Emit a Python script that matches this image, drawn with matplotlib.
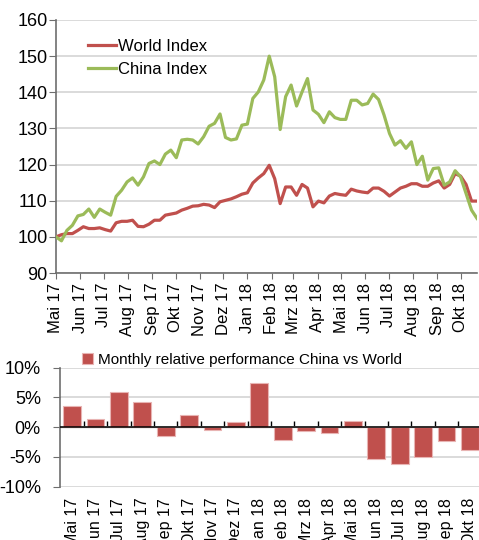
import numpy as np
import pandas as pd
import matplotlib
matplotlib.use("Agg")
import matplotlib.pyplot as plt

plt.rcParams["font.family"] = ["Liberation Sans", "DejaVu Sans"]
plt.rcParams["axes.unicode_minus"] = False

# ---------------- data ----------------
# weekly index values
weeks = pd.date_range("2017-05-01", periods=78, freq="7D")

world = [100.0, 100.6, 100.9, 100.9, 101.8, 102.8, 102.3, 102.3, 102.5, 102.0,
         101.6, 103.9, 104.3, 104.3, 104.6, 102.9, 102.8, 103.5, 104.6, 104.6,
         106.0, 106.3, 106.6, 107.4, 107.9, 108.5, 108.6, 109.0, 108.8, 108.1,
         109.7, 110.1, 110.5, 111.1, 111.8, 112.2, 114.9, 116.3, 117.5, 119.8,
         116.1, 109.2, 113.8, 113.8, 111.5, 114.5, 113.5, 108.3, 109.9, 109.4,
         111.3, 112.0, 111.7, 111.5, 113.2, 112.7, 112.4, 112.2, 113.5, 113.5,
         112.6, 111.3, 112.4, 113.5, 114.0, 114.7, 114.7, 114.0, 114.0, 114.9,
         115.5, 113.5, 114.5, 117.5, 116.8, 114.5, 109.9, 109.9]

china = [100.0, 98.9, 101.8, 103.2, 105.8, 106.2, 107.7, 105.4, 107.7, 106.8,
         106.0, 111.2, 112.9, 115.2, 116.3, 114.3, 116.6, 120.3, 121.0, 120.0,
         122.9, 124.0, 121.9, 126.8, 127.0, 126.8, 125.7, 127.7, 130.6, 131.4,
         134.0, 127.5, 126.8, 127.1, 130.9, 131.2, 138.3, 140.1, 143.4, 150.0,
         144.3, 129.7, 138.8, 142.0, 136.2, 140.1, 143.8, 135.1, 133.9, 131.6,
         134.6, 133.0, 132.5, 132.5, 137.8, 137.8, 136.5, 136.9, 139.5, 138.0,
         133.7, 128.6, 125.4, 126.6, 124.5, 126.3, 120.0, 122.3, 115.7, 118.9,
         119.1, 114.3, 115.2, 118.3, 116.6, 112.0, 107.4, 105.1]

months = ["Mai 17", "Jun 17", "Jul 17", "Aug 17", "Sep 17", "Okt 17", "Nov 17",
          "Dez 17", "Jan 18", "Feb 18", "Mrz 18", "Apr 18", "Mai 18", "Jun 18",
          "Jul 18", "Aug 18", "Sep 18", "Okt 18"]
month_starts = pd.date_range("2017-05-01", periods=18, freq="MS")

# monthly relative performance China vs World (%)
rel_perf = [3.5, 1.4, 5.9, 4.2, -1.5, 2.0, -0.4, 0.8, 7.4, -2.1, -0.6, -0.9,
            1.1, -5.4, -6.2, -5.0, -2.3, -3.9]

y_ticks_top = [90, 100, 110, 120, 130, 140, 150, 160]
y_ticks_bot = [-10, -5, 0, 5, 10]
y_labels_bot = ["-10%", "-5%", "0%", "5%", "10%"]

RED = "#C0504D"
GREEN = "#9BBB59"
GRID = "#d4d4d4"
SPINE = "#6e6e6e"

W, H = 479, 540
fig = plt.figure(figsize=(W / 100, H / 100), dpi=100)

# ---------------- top: index lines ----------------
ax1 = fig.add_axes([56 / W, 1 - 273 / H, (477 - 56) / W, 253 / H])
ax1.plot(weeks, world, color=RED, lw=2.3, label="World Index", zorder=3)
ax1.plot(weeks, china, color=GREEN, lw=2.3, label="China Index", zorder=3)
ax1.set_xlim(weeks[0], weeks[-1])
ax1.set_ylim(90, 160)
ax1.set_yticks(y_ticks_top)
ax1.set_xticks(month_starts)
ax1.set_xticklabels(months, rotation=90, fontsize=12)
ax1.tick_params(axis="y", labelsize=13, length=5, color=SPINE, pad=1)
ax1.tick_params(axis="x", length=4, color=SPINE, pad=3)
ax1.grid(axis="y", color=GRID, lw=1.2, zorder=0)
for s in ["top", "right"]:
    ax1.spines[s].set_visible(False)
for s in ["left", "bottom"]:
    ax1.spines[s].set_color(SPINE)
    ax1.spines[s].set_linewidth(1.2)
ax1.legend(loc="upper left", bbox_to_anchor=(0.04, 0.985), frameon=False,
           fontsize=12, handlelength=1.7, handletextpad=0.1, labelspacing=0.5)

# ---------------- bottom: monthly relative performance ----------------
ax2 = fig.add_axes([60.3 / W, 1 - 486.7 / H, 421.4 / W, 119 / H])
x = np.arange(len(months))
ax2.bar(x, rel_perf, width=0.76, color=RED, edgecolor="#e8b4b3", lw=0.8,
        label="Monthly relative performance China vs World", zorder=3)
ax2.set_xlim(-0.5, len(months) - 0.5)
ax2.set_ylim(-10, 10)
ax2.set_yticks(y_ticks_bot)
ax2.set_yticklabels(y_labels_bot)
ax2.set_xticks(x)
ax2.set_xticklabels(months, rotation=90, fontsize=11.5)
ax2.tick_params(axis="x", length=0, pad=8)
ax2.tick_params(axis="y", labelsize=13, length=5, color=SPINE, pad=9)
ax2.grid(axis="y", color=GRID, lw=1.2, zorder=0)
for s in ["top", "right", "bottom"]:
    ax2.spines[s].set_visible(False)
ax2.spines["left"].set_color(SPINE)
ax2.spines["left"].set_linewidth(1.2)
ax2.axhline(0, color="black", lw=1.1, zorder=4)

sec = ax2.secondary_xaxis(0.5)
sec.set_xticks(np.arange(0.5, len(months) - 1, 1.0))
sec.set_xticklabels([])
sec.tick_params(length=4, width=1, color="black")
sec.spines["bottom"].set_visible(False)

ax2.legend(loc="lower left", bbox_to_anchor=(0.045, 0.98), frameon=False,
           fontsize=11, handlelength=0.7, handleheight=0.7, handletextpad=0.3,
           borderaxespad=0.0, borderpad=0.2)

fig.savefig("out.png", dpi=100)
